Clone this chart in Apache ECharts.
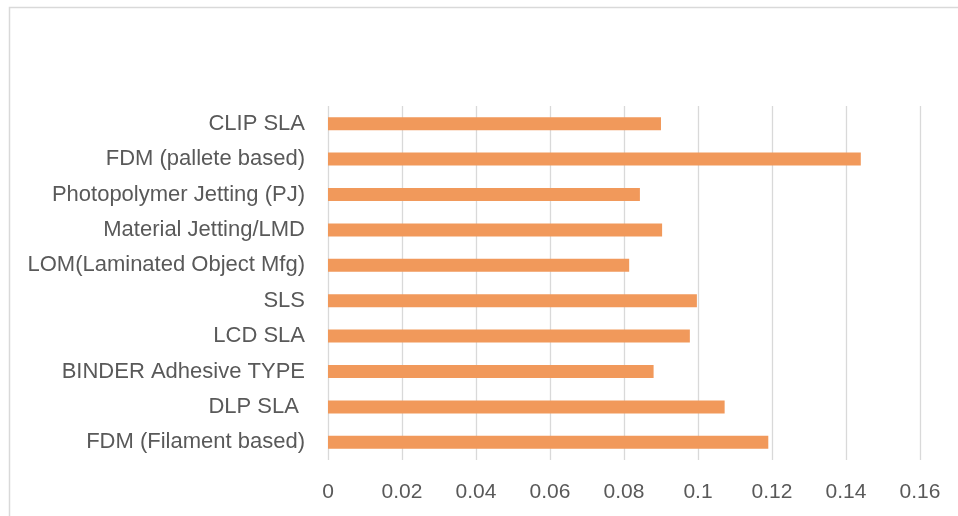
<!DOCTYPE html>
<html>
<head>
<meta charset="utf-8">
<style>
  html, body { margin: 0; padding: 0; background: #ffffff; }
  #chart { width: 958px; height: 516px; }
</style>
<script src="https://cdn.jsdelivr.net/npm/echarts@6/dist/echarts.min.js"></script>
</head>
<body>
<div id="chart"></div>
<script>
// Process names, listed top to bottom
const categories = [
  'CLIP SLA',
  'FDM (pallete based)',
  'Photopolymer Jetting (PJ)',
  'Material Jetting/LMD',
  'LOM(Laminated Object Mfg)',
  'SLS',
  'LCD SLA',
  'BINDER Adhesive TYPE',
  'DLP SLA ',
  'FDM (Filament based)'
];

// One value per process, same order as above
const values = [0.09, 0.144, 0.0843, 0.0903, 0.0814, 0.0997, 0.0978, 0.088, 0.1072, 0.119];

// Value axis ticks
const tickMin = 0;
const tickMax = 0.16;
const tickStep = 0.02;

const chart = echarts.init(document.getElementById('chart'), null, { renderer: 'canvas' });

const labelFont = '"Liberation Sans", Arial, sans-serif';
const labelColor = '#595959';
const gridColor = '#d9d9d9';

chart.setOption({
  animation: false,
  backgroundColor: '#ffffff',
  graphic: [{
    type: 'rect',
    shape: { x: 9.5, y: 7.5, width: 1000, height: 600 },
    style: { fill: 'none', stroke: '#d9d9d9', lineWidth: 1.5 },
    silent: true
  }],
  grid: {
    left: 328,
    right: 38,
    top: 106,
    bottom: 56,
    containLabel: false
  },
  xAxis: {
    type: 'value',
    min: tickMin,
    max: tickMax,
    interval: tickStep,
    axisLine: { show: false },
    axisTick: { show: false },
    splitLine: { show: true, lineStyle: { color: gridColor, width: 1.3 } },
    axisLabel: {
      color: labelColor,
      fontFamily: labelFont,
      fontSize: 21,
      margin: 22,
      formatter: function (v) { return String(parseFloat(v.toFixed(4))); }
    }
  },
  yAxis: {
    type: 'category',
    data: categories,
    inverse: true,
    axisLine: { show: false },
    axisTick: { show: false },
    splitLine: { show: false },
    axisLabel: {
      color: labelColor,
      fontFamily: labelFont,
      fontSize: 22,
      margin: 23
    }
  },
  series: [{
    type: 'bar',
    data: values,
    barWidth: 13,
    itemStyle: { color: '#F1995B' },
    silent: true
  }]
});
</script>
</body>
</html>
